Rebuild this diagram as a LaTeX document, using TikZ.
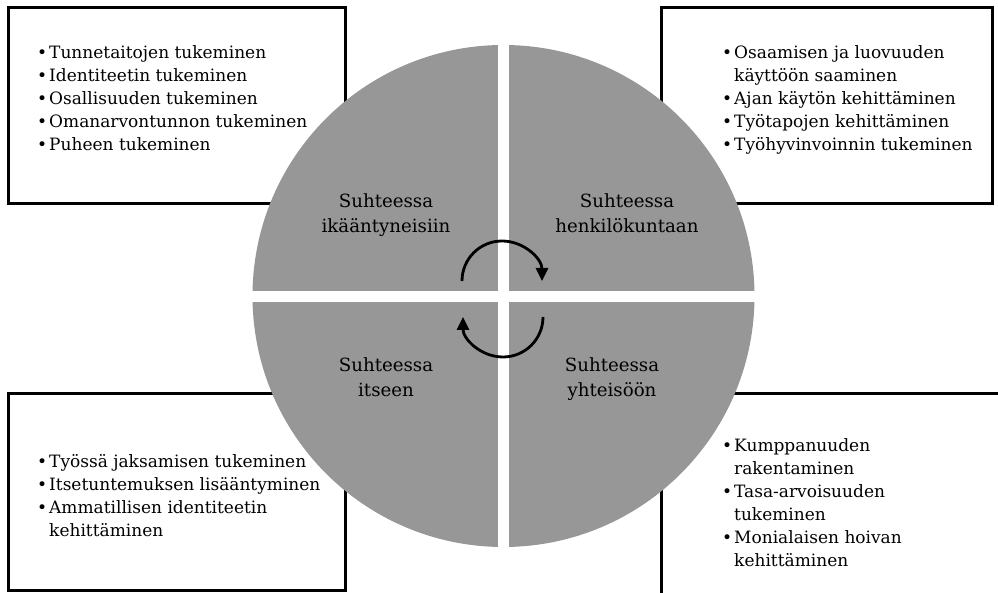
\documentclass[tikz,border=0pt]{standalone}
\usepackage{fontspec}
\setmainfont{DejaVu Serif}
\usetikzlibrary{arrows.meta}
\definecolor{discgray}{RGB}{151,151,151}
\newcommand{\blt}{\makebox[12pt][l]{\textbullet}}
\newcommand{\ind}{\hspace*{12pt}}

\begin{document}
\begin{tikzpicture}[x=1pt,y=1pt,
  frame/.style={line width=3pt},
  aspect/.style={align=center,anchor=base,inner sep=0pt,font=\fontsize{18.2}{25}\selectfont},
  list/.style={align=left,anchor=base west,inner sep=0pt,font=\fontsize{17}{23}\selectfont},
  turn/.style={line width=2.8pt,-{Triangle[length=13pt,width=12pt]}}]
\useasboundingbox (0,0) rectangle (998,593);
% laatikot
\draw[frame] (8,389) rectangle (345,585);
\draw[frame] (661,389) rectangle (992,585);
\draw[frame] (8,2) rectangle (345,199);
\draw[frame] (661,-10) rectangle (1010,199);
% ympyra
\fill[discgray] (503.5,297) circle (251);
\fill[white] (498,44) rectangle (509,550);
\fill[white] (250,291) rectangle (757,302);
\node[aspect] (ikaant) at (386,360) {Suhteessa\\ikääntyneisiin};
\node[aspect] (henkilo) at (627,360) {Suhteessa\\henkilökuntaan};
\node[aspect] (itse) at (386,196) {Suhteessa\\itseen};
\node[aspect] (yhteiso) at (612,196) {Suhteessa\\yhteisöön};
\draw[turn] (462,312) arc[start angle=180,end angle=0,radius=40];
\draw[turn] (543,276) arc[start angle=0,end angle=-180,radius=40];
% listat
\node[list] (listaIkaant) at (37,442) {\blt Tunnetaitojen tukeminen\\
  \blt Identiteetin tukeminen\\
  \blt Osallisuuden tukeminen\\
  \blt Omanarvontunnon tukeminen\\
  \blt Puheen tukeminen};
\node[list] (listaHenkilo) at (722,442) {\blt Osaamisen ja luovuuden\\
  \ind käyttöön saaminen\\
  \blt Ajan käytön kehittäminen\\
  \blt Työtapojen kehittäminen\\
  \blt Työhyvinvoinnin tukeminen};
\node[list] (listaItse) at (37,56) {\blt Työssä jaksamisen tukeminen\\
  \blt Itsetuntemuksen lisääntyminen\\
  \blt Ammatillisen identiteetin\\
  \ind kehittäminen};
\node[list] (listaYhteiso) at (722,26) {\blt Kumppanuuden\\
  \ind rakentaminen\\
  \blt Tasa-arvoisuuden\\
  \ind tukeminen\\
  \blt Monialaisen hoivan\\
  \ind kehittäminen};
\end{tikzpicture}
\end{document}
